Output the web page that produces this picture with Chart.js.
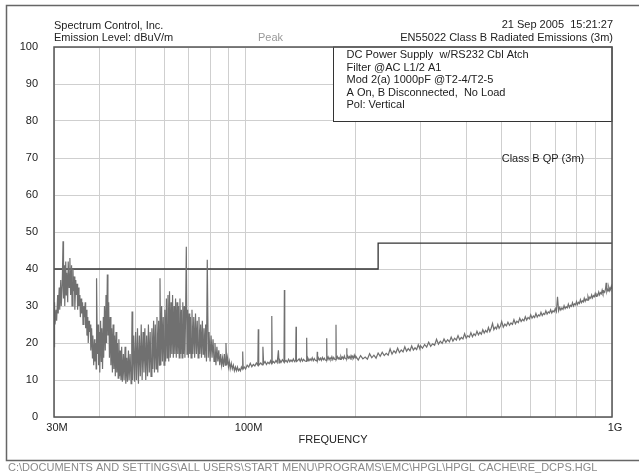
<!DOCTYPE html>
<html>
<head>
<meta charset="utf-8">
<script src="https://cdn.jsdelivr.net/npm/chart.js@4.4.1/dist/chart.umd.min.js"></script>
<style>
  html,body{margin:0;padding:0;background:#fff;}
  #wrap{width:639px;height:474px;position:relative;}
</style>
</head>
<body>
<div id="wrap"><canvas id="c" width="639" height="474"></canvas></div>
<script>
// EN55022 radiated emissions scan, peak detector, dBuV/m vs MHz

// 30 - 100 MHz: broadband hump
const lowFreq = [
  30.0,30.1,30.2,30.4,30.5,30.7,30.8,31.0,31.1,31.3,31.4,31.6,31.75,31.85,32.0,32.1,32.3,32.4,32.5,32.7,32.8,33.0,
  33.15,33.3,33.5,33.6,33.8,33.9,34.1,34.2,34.4,34.5,34.7,34.8,35.0,35.1,35.3,35.4,35.6,35.7,35.9,36.0,
  36.2,36.3,36.5,36.6,36.8,36.9,37.1,37.2,37.4,37.5,37.7,37.8,38.0,38.2,38.3,38.5,38.7,38.8,39.0,39.1,
  39.2,39.4,39.6,39.7,39.9,40.0,40.2,40.4,40.5,40.7,40.9,41.0,41.2,41.4,41.6,41.7,41.8,41.95,42.1,42.3,
  42.5,42.7,42.9,43.1,43.3,43.5,43.7,43.9,44.1,44.3,44.5,44.7,44.9,45.1,45.3,45.5,45.7,45.9,46.1,46.4,
  46.6,46.9,47.1,47.4,47.6,47.9,48.1,48.4,48.7,48.9,49.0,49.2,49.5,49.8,50.1,50.4,50.7,51.0,51.3,51.6,
  51.9,52.2,52.5,52.8,53.1,53.4,53.7,54.0,54.3,54.6,54.9,55.2,55.5,55.8,56.1,56.4,56.7,57.0,57.3,57.6,
  57.9,58.2,58.4,58.7,59.0,59.3,59.6,59.9,60.2,60.5,60.8,61.1,61.4,61.7,62.0,62.3,62.6,62.9,63.2,63.5,
  63.8,64.1,64.4,64.7,65.0,65.3,65.6,65.9,66.2,66.5,66.8,67.1,67.4,67.7,68.0,68.3,68.6,68.9,69.2,69.5,
  69.8,70.1,70.4,70.7,71.0,71.4,71.8,72.2,72.6,73.0,73.4,73.8,74.2,74.6,75.0,75.4,75.8,76.2,76.6,77.0,
  77.4,77.8,78.2,78.6,79.1,79.5,80.0,80.5,81.0,81.5,82.0,82.5,83.0,83.5,84.0,84.5,85.0,85.5,86.0,86.5,
  87.0,87.5,88.0,88.4,88.8,89.3,89.8,90.3,90.8,91.4,92.0,92.6,93.2,93.8,94.4,95.0,95.6,96.2,96.8,97.4,
  97.9,98.2,98.5,99.2
];
const lowLevel = [
  19,31,25,29,26,33,28,35,29,37,30,36,47.5,32,41,30,42,33,39,31,42,35,
  43,33,41,30,40,34,38,29,37,33,36,29,35,30,33,27,32,28,31,25,
  30,27,31,24,29,22,27,20,26,23,25,18,24,16,22,14,21,15,20,13,
  37.5,17,25,14,23,12,26,15,24,13,27,16,30,18,33,20,22,38.5,22,31,
  16,27,14,24,12,25,13,22,11,23,12,20,10.5,21,11,18,10,19,9.5,17,
  10,19,9,16,9.5,18,10,17,9,20,28.5,10,22,9.5,23,10,24,9,22,11,
  25,10,23,12,24,10,22,11,25,12,23,11,24,13,26,12,25,13,27,12,
  26,14,37.5,14,30,15,27,14,29,15,32,16,33,15,34,16,31,17,33,16,
  30,17,32,16,31,17,30,16,32,17,29,16,31,17,30,16,28,46,17,29,
  16,28,17,27,16,29,17,27,16,28,17,26,16,27,17,25,16,26,17,24,
  16,25,15,42.5,16,23,15,22,16,21,15,20,14,19,15,18,14,17,14,16,
  13.5,17,14,20,14,16,13.5,15,13,14.5,13,14,12.5,13.5,12.5,13.5,12.5,13,12.5,13.5,
  13,17.7,13,13.5
];

// 100 - 200 MHz: floor with clock harmonics
const midFreq = [
  100,101,102,103,104,105,106,107,108,108.3,108.6,110,111,111.5,112,113,114,115,116,117,117.6,117.9,118.2,
  119,120,121,122,122.9,123.4,124,125,126,127.3,127.6,127.9,129,130,131,132,133,134,135,136,137,137.3,137.6,
  138.5,140,141,142,143,144,145,146.5,146.8,147.1,148,149,150,151,152,153,154,155,156.6,156.9,157.2,
  158,159,160,161,162,163,164,165,166.2,166.5,166.8,168,169,170,171,172,173,174,175,176.2,176.5,176.8,
  178,179,180,181,182,183,184,185,186,187,188.5,188.8,189.1,190,191,192,193,194,195,196,197,198,199
];
const midLevel = [
  13,14,13.5,14.5,13.6,14.2,13.8,14.6,14,23.7,14,14.6,14.1,19,14.4,15,14.2,14.8,14.4,15.2,14.4,27.3,14.5,
  15,14.6,15.3,14.7,18,14.6,15.4,14.8,15.5,14.8,34.3,14.9,15.3,14.8,15.6,14.9,15.4,15.0,15.7,15.0,15.4,24.4,15.0,
  15.2,15.7,15.0,15.8,15.1,15.6,15.2,15.0,21.4,15.2,15.9,15.2,15.7,15.3,16.0,15.2,15.8,15.3,15.1,17.6,15.3,
  16.0,15.4,15.9,15.3,16.1,15.5,15.9,15.4,15.3,21.3,15.4,16.2,15.5,16.0,15.6,16.3,15.5,16.1,15.6,15.5,24.9,15.6,
  16.3,15.7,16.1,15.6,16.4,15.8,16.2,15.7,16.5,15.8,15.7,18.6,15.8,16.5,15.9,16.3,15.8,16.6,16.0,16.4,15.9,16.7,16.0
];

// 200 - 1000 MHz: rising noise floor
const highFreq = [
  200,203,206,209,212,215,218,221,224,227,230,233,236,239,242,245,248,251,254,257,260,263,266,269,272,275,278,281,284,287,290,293,296,299,
  300,304,308,312,316,320,324,328,332,336,340,344,348,352,356,360,364,368,372,376,380,384,388,392,396,
  400,404,408,412,416,420,424,428,432,436,440,444,448,452,456,460,464,468,472,476,480,484,488,492,496,
  500,505,510,515,520,525,530,535,540,545,550,555,560,565,570,575,580,585,590,595,
  600,605,610,615,620,625,630,635,640,645,650,655,660,665,670,675,680,685,690,695,
  700,705,710,715,720,725,730,735,740,745,750,755,760,765,770,775,780,785,790,795,
  800,805,810,815,820,825,830,835,840,845,850,855,860,865,870,875,880,885,890,895,
  900,905,910,915,920,925,930,935,940,945,950,955,960,964,968,972,976,980,984,988,992,996,1000
];
const highLevel = [
  16.4,15.4,16.6,15.7,16.2,15.6,17.1,16.0,16.7,15.9,17.3,16.4,17.5,16.6,17.2,16.7,18.4,17.0,17.9,17.3,18.6,17.4,18.1,17.6,19.0,17.8,18.5,17.9,19.2,18.1,18.7,18.2,19.5,18.4,
  19.3,18.6,19.6,18.9,20.2,19.1,19.8,19.4,21.0,19.7,20.5,19.9,21.1,20.2,20.9,20.3,21.6,20.5,21.3,20.8,22.0,20.9,21.5,21.1,22.5,
  21.3,22.0,21.6,22.8,21.7,22.5,22.0,23.2,22.2,22.9,22.4,23.6,22.7,23.4,22.9,24.2,23.1,24.0,25.3,23.6,24.3,23.8,25.0,24.0,24.6,
  25.8,24.3,25.1,24.6,25.6,24.8,25.4,25.0,26.3,25.2,25.9,25.5,26.7,25.8,26.4,26.0,27.1,26.2,26.9,26.5,
  27.6,26.7,27.3,26.9,28.0,27.0,27.6,27.3,28.3,27.4,28.0,27.7,28.7,27.8,28.4,28.1,29.0,28.1,28.7,28.4,
  29.3,28.5,32.5,28.7,29.6,28.9,29.5,29.1,30.1,29.3,29.8,29.5,30.5,29.6,30.2,29.9,30.9,30.0,30.6,30.3,
  31.2,30.4,31.0,30.7,31.7,30.9,31.4,31.1,32.1,31.3,31.9,31.6,32.6,31.8,32.4,32.1,33.0,32.2,32.8,32.5,
  33.4,32.6,33.2,32.9,33.8,33.0,33.6,33.3,34.3,33.4,34.0,33.7,34.6,36.3,33.9,34.5,34.1,35.0,34.2,34.8,34.4,35.3,34.6
];

// EN55022 class B QP limit at 3 m
const limitFreq = [30, 230, 230, 1000];
const limitLevel = [40, 40, 47, 47];

// axis ticks
const gridFreq = [30,40,50,60,70,80,90,100,200,300,400,500,600,700,800,900,1000];
const freqLabels = {30:'30M', 100:'100M', 1000:'1G'};
const levelTicks = [0,10,20,30,40,50,60,70,80,90,100];

const infoLines = [
  'DC Power Supply  w/RS232 Cbl Atch',
  'Filter @AC L1/2 A1',
  'Mod 2(a) 1000pF @T2-4/T2-5',
  'A On, B Disconnected,  No Load',
  'Pol: Vertical'
];

const traceFreq = lowFreq.concat(midFreq, highFreq);
const traceLevel = lowLevel.concat(midLevel, highLevel);
if (traceFreq.length !== traceLevel.length) console.warn('trace length mismatch', traceFreq.length, traceLevel.length);

const FONT = '"Liberation Sans", Arial, sans-serif';

const decor = {
  id: 'decor',
  beforeDraw(chart){
    const ctx = chart.ctx;
    ctx.save();
    ctx.fillStyle = '#fff';
    ctx.fillRect(0,0,chart.width,chart.height);
    ctx.restore();
  },
  afterDatasetsDraw(chart){
    const ctx = chart.ctx, a = chart.chartArea;
    const xs = chart.scales.x, ys = chart.scales.y;
    ctx.save();
    // info box
    const bx = Math.round(xs.getPixelForValue(173)) + 0.5;
    const by = Math.round(ys.getPixelForValue(80)) + 0.5;
    ctx.fillStyle = '#fff';
    ctx.fillRect(bx, a.top, a.right - bx, by - a.top);
    ctx.strokeStyle = '#333';
    ctx.lineWidth = 1;
    ctx.strokeRect(bx, a.top, a.right - bx, by - a.top);
    ctx.fillStyle = '#222';
    ctx.font = '11px ' + FONT;
    ctx.textBaseline = 'middle';
    ctx.textAlign = 'left';
    infoLines.forEach((t,i)=> ctx.fillText(t, bx + 13, a.top + 8 + i*12.6));

    // plot border
    ctx.strokeStyle = '#555';
    ctx.lineWidth = 1.5;
    ctx.strokeRect(a.left, a.top, a.right - a.left, a.bottom - a.top);

    // limit label
    ctx.fillStyle = '#222';
    ctx.fillText('Class B QP (3m)', xs.getPixelForValue(500), ys.getPixelForValue(70) + 1);

    // headers
    ctx.fillText('Spectrum Control, Inc.', 54, 26);
    ctx.fillText('Emission Level: dBuV/m', 54, 38);
    ctx.fillStyle = '#999';
    ctx.fillText('Peak', 258, 38);
    ctx.fillStyle = '#222';
    ctx.textAlign = 'right';
    ctx.fillText('21 Sep 2005  15:21:27', 613, 25);
    ctx.fillText('EN55022 Class B Radiated Emissions (3m)', 613, 38);
    ctx.textAlign = 'center';
    ctx.fillText('FREQUENCY', (a.left + a.right)/2, 440);

    // path footer
    ctx.textAlign = 'left';
    ctx.fillStyle = '#8a8a8a';
    ctx.fillText('C:\\DOCUMENTS AND SETTINGS\\ALL USERS\\START MENU\\PROGRAMS\\EMC\\HPGL\\HPGL CACHE\\RE_DCPS.HGL', 8, 468, 628);

    // outer frame
    ctx.strokeStyle = '#666';
    ctx.lineWidth = 1.5;
    ctx.beginPath();
    ctx.moveTo(650, 5.5);
    ctx.lineTo(6.5, 5.5);
    ctx.lineTo(6.5, 460.5);
    ctx.lineTo(650, 460.5);
    ctx.stroke();
    ctx.restore();
  }
};

new Chart(document.getElementById('c'), {
  type: 'line',
  data: {
    datasets: [
      {
        label: 'Peak',
        data: traceFreq.map((f,i)=>({x:f, y:traceLevel[i]})),
        borderColor: '#707070',
        borderWidth: 1.2,
        pointRadius: 0,
        tension: 0
      },
      {
        label: 'Class B QP (3m)',
        data: limitFreq.map((f,i)=>({x:f, y:limitLevel[i]})),
        borderColor: '#333',
        borderWidth: 1.3,
        pointRadius: 0,
        tension: 0
      }
    ]
  },
  options: {
    responsive: false,
    animation: false,
    events: [],
    layout: { padding: { left: 0, top: 47, right: 27, bottom: 0 } },
    plugins: { legend: { display: false }, tooltip: { enabled: false } },
    scales: {
      x: {
        type: 'logarithmic',
        min: 30, max: 1000,
        afterBuildTicks: s => { s.ticks = gridFreq.map(v=>({value:v})); },
        afterFit: s => { s.height = 57; },
        grid: { color: '#cfcfcf', lineWidth: 1, drawTicks: false },
        border: { display: false },
        ticks: {
          autoSkip: false, maxRotation: 0, padding: 4, labelOffset: 3,
          color: '#222', font: { family: FONT, size: 11 },
          callback: v => freqLabels[v] || ''
        }
      },
      y: {
        min: 0, max: 100,
        afterBuildTicks: s => { s.ticks = levelTicks.map(v=>({value:v})); },
        afterFit: s => { s.width = 54; },
        grid: { color: '#cfcfcf', lineWidth: 1, drawTicks: false },
        border: { display: false },
        ticks: { padding: 16, color: '#222', font: { family: FONT, size: 11 } }
      }
    }
  },
  plugins: [decor]
});
</script>
</body>
</html>
